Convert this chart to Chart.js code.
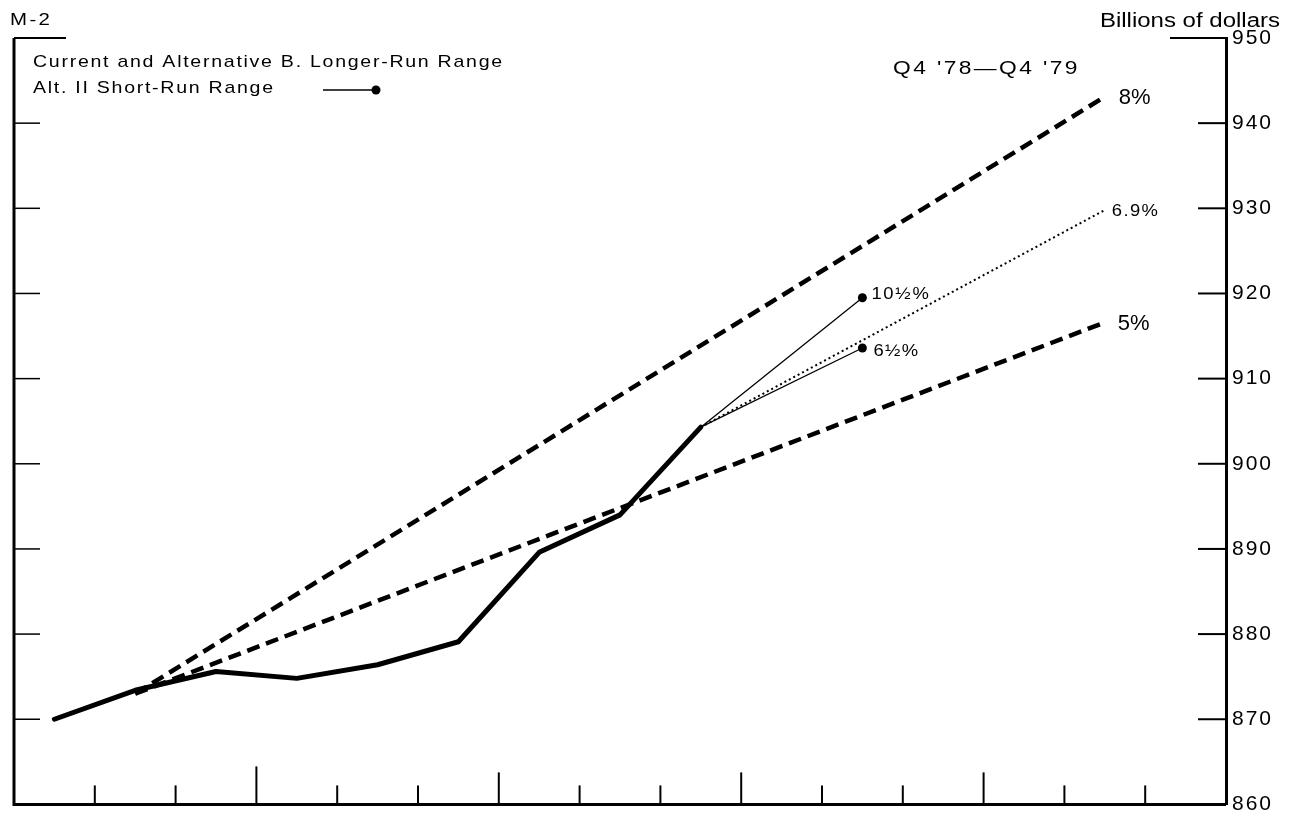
<!DOCTYPE html>
<html>
<head>
<meta charset="utf-8">
<title>M-2</title>
<script src="https://cdn.jsdelivr.net/npm/chart.js@4"></script>
<style>
  html, body { margin: 0; padding: 0; background: #fff; }
  #wrap { width: 1295px; height: 823px; }
</style>
</head>
<body>
<div id="wrap"><canvas id="m2Chart" width="1295" height="823"></canvas></div>
<script>
// months from Oct '78 to Dec '79, values in billions of dollars
const months = ["Oct 78", "Nov 78", "Dec 78", "Jan 79", "Feb 79", "Mar 79", "Apr 79", "May 79",
  "Jun 79", "Jul 79", "Aug 79", "Sep 79", "Oct 79", "Nov 79", "Dec 79"];
const yTicks = [860, 870, 880, 890, 900, 910, 920, 930, 940, 950];

const m2Actual = [870.0, 873.4, 875.6, 874.8, 876.4, 879.1, 889.6, 894.0, 904.3, null, null, null, null, null, null];
const range8 = [null, 873.0, null, null, null, null, null, null, null, null, null, null, null, 943.1, null];
const range5 = [null, 873.0, null, null, null, null, null, null, null, null, null, null, null, 916.6, null];
const path69 = [null, null, null, null, null, null, null, null, 904.3, null, null, null, null, 929.8, null];
const shortHigh = [null, null, null, null, null, null, null, null, 904.3, null, 919.5, null, null, null, null];
const shortLow = [null, null, null, null, null, null, null, null, 904.3, null, 913.6, null, null, null, null];

const FONT = "'Liberation Sans', Arial, Helvetica, sans-serif";

// the lettering of the original is a wide face, so stretch it a little
function putText(ctx, str, x, y, size, sx, spacing, align) {
  ctx.save();
  ctx.translate(x, y);
  ctx.scale(sx, 1);
  ctx.font = size + "px " + FONT;
  ctx.letterSpacing = spacing + "px";
  ctx.fillStyle = "#000";
  ctx.textAlign = align || "left";
  ctx.textBaseline = "alphabetic";
  ctx.fillText(str, 0, 0);
  ctx.restore();
}

// axes frame, inward ticks and the text labels
const framePlugin = {
  id: "frame",
  beforeDraw(chart) {
    // widen the axis numbers a bit
    chart.ctx.letterSpacing = "2px";
  },
  afterDatasetsDraw(chart) {
    const ctx = chart.ctx;
    const a = chart.chartArea;
    const xs = chart.scales.x;
    const ys = chart.scales.y;

    ctx.save();
    ctx.strokeStyle = "#000";
    ctx.lineCap = "butt";

    // left and bottom axis lines
    ctx.lineWidth = 3;
    ctx.beginPath();
    ctx.moveTo(a.left, a.top);
    ctx.lineTo(a.left, a.bottom);
    ctx.lineTo(a.right, a.bottom);
    ctx.stroke();

    // top brackets
    ctx.lineWidth = 2;
    ctx.beginPath();
    ctx.moveTo(a.left, a.top);
    ctx.lineTo(a.left + 52, a.top);
    ctx.moveTo(a.right - 56, a.top);
    ctx.lineTo(a.right, a.top);
    ctx.stroke();

    // month ticks on the bottom axis, longer at quarter and year boundaries
    ctx.lineWidth = 2;
    for (let i = 1; i < months.length; i++) {
      const bx = (xs.getPixelForValue(i - 1) + xs.getPixelForValue(i)) / 2;
      let len = 19;
      if (months[i].startsWith("Jan")) len = 38;
      else if (i % 3 === 0) len = 32;
      ctx.beginPath();
      ctx.moveTo(bx, a.bottom);
      ctx.lineTo(bx, a.bottom - len);
      ctx.stroke();
    }

    // inward value ticks on both sides
    yTicks.forEach(function (v) {
      if (v === yTicks[0] || v === yTicks[yTicks.length - 1]) return;
      const py = ys.getPixelForValue(v);
      ctx.lineWidth = 2;
      ctx.beginPath();
      ctx.moveTo(a.right - 28, py);
      ctx.lineTo(a.right, py);
      ctx.stroke();
      ctx.lineWidth = 1.5;
      ctx.beginPath();
      ctx.moveTo(a.left, py);
      ctx.lineTo(a.left + 26, py);
      ctx.stroke();
    });
    ctx.restore();

    // headings and legend
    putText(ctx, "M-2", 10, 25, 17, 1.2, 2);
    putText(ctx, "Billions of dollars", 1280, 27, 20, 1.2, 0, "right");
    putText(ctx, "Current and Alternative B. Longer-Run Range", 33, 67, 17, 1.15, 1.5);
    putText(ctx, "Alt. II Short-Run Range", 33, 93, 17, 1.15, 1.5);
    putText(ctx, "Q4 '78\u2014Q4 '79", 893, 74, 19, 1.2, 2);

    ctx.save();
    ctx.strokeStyle = "#000";
    ctx.fillStyle = "#000";
    ctx.lineWidth = 1.5;
    ctx.beginPath();
    ctx.moveTo(323, 90);
    ctx.lineTo(374, 90);
    ctx.stroke();
    ctx.beginPath();
    ctx.arc(376, 90, 4.5, 0, Math.PI * 2);
    ctx.fill();
    ctx.restore();

    // end labels placed from the data
    const xEnd = xs.getPixelForValue(13);
    const xShort = xs.getPixelForValue(10);
    putText(ctx, "8%", xEnd + 14, ys.getPixelForValue(range8[13]) + 7, 22, 1, 0);
    putText(ctx, "6.9%", xEnd + 7, ys.getPixelForValue(path69[13]) + 6, 16, 1.15, 1.2);
    putText(ctx, "5%", xEnd + 13, ys.getPixelForValue(range5[13]) + 8, 22, 1, 0);
    putText(ctx, "10\u00bd%", xShort + 9, ys.getPixelForValue(shortHigh[10]) + 1, 16, 1.15, 1.5);
    putText(ctx, "6\u00bd%", xShort + 11, ys.getPixelForValue(shortLow[10]) + 8, 16, 1.15, 1.2);
  }
};

const dashed = [13, 7];

new Chart(document.getElementById("m2Chart"), {
  type: "line",
  data: {
    labels: months,
    datasets: [
      { data: m2Actual, borderColor: "#000", borderWidth: 5, pointRadius: 0, borderJoinStyle: "round", borderCapStyle: "round" },
      { data: range8, borderColor: "#000", borderWidth: 4.5, borderDash: dashed, pointRadius: 0, spanGaps: true },
      { data: range5, borderColor: "#000", borderWidth: 4.5, borderDash: dashed, pointRadius: 0, spanGaps: true },
      { data: path69, borderColor: "#000", borderWidth: 2, borderDash: [2, 3], pointRadius: 0, spanGaps: true },
      {
        data: shortHigh, borderColor: "#000", borderWidth: 1.3, spanGaps: true,
        pointRadius: (c) => (c.dataIndex === 10 ? 4.5 : 0), pointBackgroundColor: "#000", pointBorderWidth: 0
      },
      {
        data: shortLow, borderColor: "#000", borderWidth: 1.3, spanGaps: true,
        pointRadius: (c) => (c.dataIndex === 10 ? 4.5 : 0), pointBackgroundColor: "#000", pointBorderWidth: 0
      }
    ]
  },
  options: {
    responsive: false,
    animation: false,
    devicePixelRatio: 1,
    layout: { padding: { left: 14, top: 38, right: 0, bottom: 6 } },
    plugins: { legend: { display: false }, tooltip: { enabled: false } },
    scales: {
      x: {
        type: "category",
        offset: true,
        display: false
      },
      y: {
        position: "right",
        min: 860,
        max: 950,
        afterFit: function (scale) { scale.width = 69; },
        afterBuildTicks: function (scale) { scale.ticks = yTicks.map((v) => ({ value: v })); },
        grid: { display: false, drawTicks: false },
        border: { display: true, width: 3, color: "#000" },
        ticks: {
          padding: 6,
          color: "#000",
          font: { family: FONT, size: 21 }
        }
      }
    }
  },
  plugins: [framePlugin]
});
</script>
</body>
</html>
